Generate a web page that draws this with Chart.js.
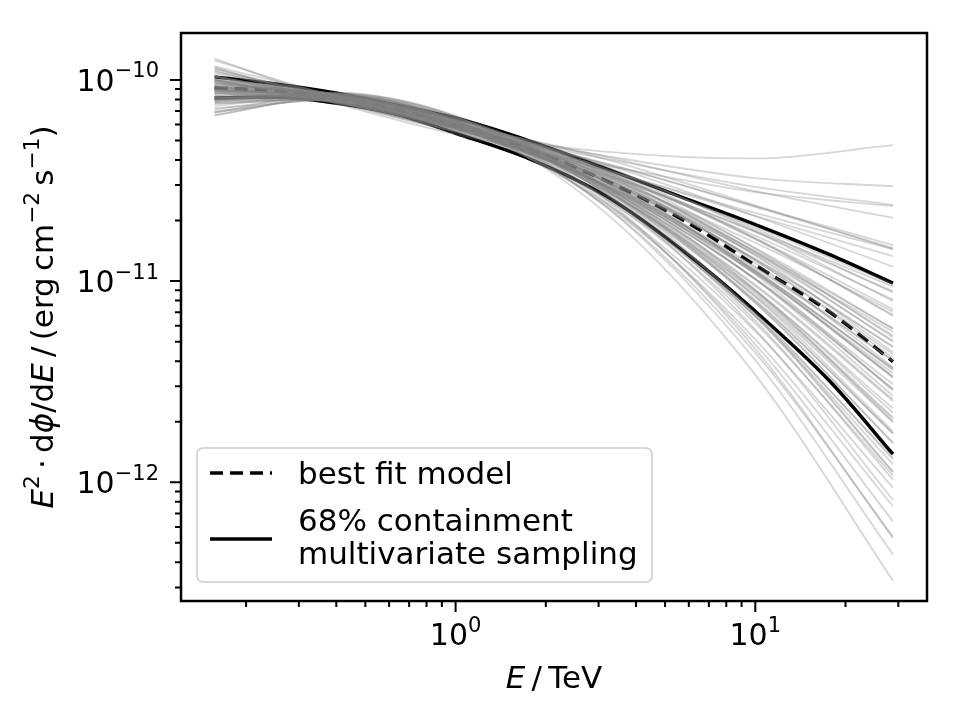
<!DOCTYPE html>
<html>
<head>
<meta charset="utf-8">
<script src="https://cdn.jsdelivr.net/npm/chart.js@4.4.0/dist/chart.umd.min.js"></script>
<style>
  html, body { margin: 0; padding: 0; background: #ffffff; }
  #wrap { width: 960px; height: 720px; }
</style>
</head>
<body>
<div id="wrap"><canvas id="c" width="960" height="720"></canvas></div>
<script>
// ---------------- data ----------------
// energies (TeV) at which the sampled curves were read
const E_SAMPLE = [0.157, 0.398, 1.0, 3.16, 10.0, 28.8];
// energies (TeV) at which best fit and 68% containment were read
const E_BAND = [0.157, 0.251, 0.398, 0.631, 1.0, 1.78, 3.16, 5.62, 10.0, 17.8, 28.8];

// E^2 dphi/dE  (erg cm^-2 s^-1)
const BEST_FIT = [9.12e-11, 8.81e-11, 8.11e-11, 7.13e-11, 5.96e-11, 4.50e-11, 3.16e-11, 2.05e-11, 1.20e-11, 6.98e-12, 3.98e-12];
const UPPER_68 = [1.035e-10, 9.55e-11, 8.61e-11, 7.50e-11, 6.46e-11, 4.95e-11, 3.63e-11, 2.63e-11, 1.91e-11, 1.35e-11, 9.77e-12];
const LOWER_68 = [8.13e-11, 8.22e-11, 7.67e-11, 6.76e-11, 5.43e-11, 4.03e-11, 2.66e-11, 1.45e-11, 7.08e-12, 3.16e-12, 1.38e-12];

// multivariate samples (grey curves), values at E_SAMPLE
const SAMPLES = [
  [1.274e-10, 7.89e-11, 5.57e-11, 4.40e-11, 4.07e-11, 4.74e-11],
  [1.157e-10, 7.65e-11, 5.36e-11, 3.76e-11, 2.77e-11, 2.36e-11],
  [1.168e-10, 8.36e-11, 6.04e-11, 4.16e-11, 2.80e-11, 2.06e-11],
  [1.139e-10, 7.95e-11, 5.53e-11, 3.55e-11, 2.18e-11, 1.44e-11],
  [1.040e-10, 7.83e-11, 5.74e-11, 3.82e-11, 2.35e-11, 1.51e-11],
  [1.035e-10, 8.15e-11, 6.10e-11, 4.04e-11, 2.38e-11, 1.44e-11],
  [9.98e-11, 7.66e-11, 5.49e-11, 3.35e-11, 1.77e-11, 9.41e-12],
  [1.078e-10, 8.29e-11, 5.85e-11, 3.41e-11, 1.68e-11, 8.09e-12],
  [9.70e-11, 7.98e-11, 5.93e-11, 3.62e-11, 1.82e-11, 8.77e-12],
  [1.009e-10, 8.25e-11, 6.00e-11, 3.49e-11, 1.63e-11, 7.25e-12],
  [9.94e-11, 8.04e-11, 5.73e-11, 3.20e-11, 1.41e-11, 5.82e-12],
  [9.15e-11, 7.92e-11, 5.97e-11, 3.52e-11, 1.61e-11, 6.79e-12],
  [1.009e-10, 8.45e-11, 6.09e-11, 3.34e-11, 1.40e-11, 5.36e-12],
  [9.02e-11, 7.82e-11, 5.78e-11, 3.22e-11, 1.35e-11, 5.06e-12],
  [9.75e-11, 8.15e-11, 5.75e-11, 3.00e-11, 1.16e-11, 4.02e-12],
  [9.32e-11, 8.31e-11, 6.20e-11, 3.43e-11, 1.39e-11, 4.99e-12],
  [8.78e-11, 7.74e-11, 5.68e-11, 3.04e-11, 1.18e-11, 4.03e-12],
  [9.27e-11, 8.09e-11, 5.83e-11, 3.03e-11, 1.13e-11, 3.65e-12],
  [9.14e-11, 8.43e-11, 6.37e-11, 3.47e-11, 1.34e-11, 4.44e-12],
  [8.95e-11, 8.02e-11, 5.85e-11, 3.01e-11, 1.09e-11, 3.36e-12],
  [9.06e-11, 8.11e-11, 5.86e-11, 2.96e-11, 1.03e-11, 3.07e-12],
  [8.93e-11, 8.44e-11, 6.40e-11, 3.39e-11, 1.23e-11, 3.73e-12],
  [8.57e-11, 7.95e-11, 5.87e-11, 2.97e-11, 1.02e-11, 2.92e-12],
  [9.38e-11, 8.49e-11, 6.07e-11, 2.93e-11, 9.45e-12, 2.53e-12],
  [8.15e-11, 7.79e-11, 5.82e-11, 2.91e-11, 9.60e-12, 2.58e-12],
  [8.33e-11, 8.29e-11, 6.37e-11, 3.26e-11, 1.08e-11, 2.86e-12],
  [8.78e-11, 8.33e-11, 6.04e-11, 2.83e-11, 8.40e-12, 1.99e-12],
  [7.90e-11, 7.91e-11, 5.98e-11, 2.91e-11, 8.83e-12, 2.10e-12],
  [8.28e-11, 8.17e-11, 6.02e-11, 2.79e-11, 7.93e-12, 1.75e-12],
  [8.07e-11, 8.41e-11, 6.47e-11, 3.11e-11, 9.03e-12, 2.00e-12],
  [8.13e-11, 8.07e-11, 5.86e-11, 2.58e-11, 6.73e-12, 1.33e-12],
  [8.11e-11, 8.51e-11, 6.44e-11, 2.95e-11, 7.85e-12, 1.56e-12],
  [7.63e-11, 8.03e-11, 6.00e-11, 2.65e-11, 6.66e-12, 1.23e-12],
  [7.94e-11, 8.19e-11, 5.91e-11, 2.45e-11, 5.63e-12, 9.40e-13],
  [7.74e-11, 8.65e-11, 6.65e-11, 2.90e-11, 6.83e-12, 1.13e-12],
  [7.23e-11, 7.95e-11, 5.91e-11, 2.40e-11, 5.13e-12, 7.60e-13],
  [7.13e-11, 8.39e-11, 6.51e-11, 2.72e-11, 5.74e-12, 8.16e-13],
  [6.88e-11, 8.09e-11, 6.11e-11, 2.36e-11, 4.40e-12, 5.37e-13],
  [6.89e-11, 8.52e-11, 6.59e-11, 2.55e-11, 4.60e-12, 5.28e-13],
  [6.69e-11, 8.31e-11, 6.23e-11, 2.19e-11, 3.42e-12, 3.24e-13],
  [9.93e-11, 7.86e-11, 5.75e-11, 3.54e-11, 1.86e-11, 9.65e-12],
  [1.038e-10, 8.12e-11, 5.73e-11, 3.28e-11, 1.55e-11, 7.05e-12],
  [9.96e-11, 8.37e-11, 6.24e-11, 3.72e-11, 1.77e-11, 7.95e-12],
  [9.31e-11, 7.70e-11, 5.56e-11, 3.13e-11, 1.37e-11, 5.61e-12],
  [9.25e-11, 8.12e-11, 6.15e-11, 3.61e-11, 1.63e-11, 6.71e-12],
  [9.86e-11, 8.25e-11, 5.90e-11, 3.17e-11, 1.29e-11, 4.73e-12],
  [9.05e-11, 7.82e-11, 5.72e-11, 3.14e-11, 1.28e-11, 4.71e-12],
  [9.58e-11, 8.50e-11, 6.34e-11, 3.53e-11, 1.45e-11, 5.26e-12],
  [9.64e-11, 8.16e-11, 5.77e-11, 2.97e-11, 1.11e-11, 3.68e-12],
  [8.94e-11, 8.03e-11, 5.98e-11, 3.24e-11, 1.27e-11, 4.33e-12],
  [9.45e-11, 8.28e-11, 5.97e-11, 3.09e-11, 1.13e-11, 3.62e-12],
  [8.56e-11, 7.96e-11, 6.05e-11, 3.30e-11, 1.27e-11, 4.16e-12],
  [9.23e-11, 8.41e-11, 6.17e-11, 3.15e-11, 1.11e-11, 3.30e-12],
  [8.28e-11, 7.78e-11, 5.80e-11, 2.96e-11, 1.02e-11, 2.89e-12],
  [8.85e-11, 8.12e-11, 5.84e-11, 2.81e-11, 8.92e-12, 2.33e-12],
  [8.50e-11, 8.27e-11, 6.23e-11, 3.13e-11, 1.02e-11, 2.69e-12],
  [8.18e-11, 7.98e-11, 5.92e-11, 2.84e-11, 8.60e-12, 2.06e-12],
  [8.67e-11, 8.55e-11, 6.28e-11, 2.88e-11, 8.05e-12, 1.74e-12],
  [7.77e-11, 8.13e-11, 6.23e-11, 2.95e-11, 8.34e-12, 1.79e-12],
  [8.12e-11, 8.39e-11, 6.21e-11, 2.74e-11, 6.94e-12, 1.30e-12],
  [1.249e-10, 8.20e-11, 5.78e-11, 4.19e-11, 3.25e-11, 2.96e-11],
  [1.107e-10, 7.79e-11, 5.67e-11, 4.06e-11, 2.94e-11, 2.39e-11],
  [1.130e-10, 8.06e-11, 5.64e-11, 3.57e-11, 2.11e-11, 1.33e-11],
  [1.004e-10, 7.77e-11, 5.78e-11, 3.86e-11, 2.34e-11, 1.46e-11],
  [1.098e-10, 8.40e-11, 6.06e-11, 3.80e-11, 2.10e-11, 1.18e-11],
  [1.045e-10, 8.01e-11, 5.70e-11, 3.41e-11, 1.75e-11, 8.91e-12],
  [8.84e-11, 7.75e-11, 5.82e-11, 3.35e-11, 1.46e-11, 5.79e-12],
  [9.60e-11, 8.27e-11, 5.88e-11, 3.00e-11, 1.09e-11, 3.49e-12],
  [8.63e-11, 8.05e-11, 6.02e-11, 3.13e-11, 1.12e-11, 3.34e-12],
  [8.81e-11, 8.44e-11, 6.20e-11, 2.97e-11, 9.06e-12, 2.22e-12],
  [7.63e-11, 8.04e-11, 6.14e-11, 2.85e-11, 7.77e-12, 1.58e-12],
  [8.00e-11, 8.29e-11, 6.07e-11, 2.58e-11, 6.17e-12, 1.08e-12],
  [7.89e-11, 8.63e-11, 6.54e-11, 2.83e-11, 6.68e-12, 1.12e-12],
  [6.97e-11, 8.00e-11, 6.25e-11, 2.73e-11, 6.35e-12, 1.03e-12],
  [7.43e-11, 8.45e-11, 6.30e-11, 2.47e-11, 4.85e-12, 6.39e-13],
  [6.66e-11, 8.22e-11, 6.29e-11, 2.35e-11, 4.05e-12, 4.38e-13]
];

// axis ranges and ticks
const X_MIN = 0.1213, X_MAX = 37.4;
const Y_MIN = 2.57e-13, Y_MAX = 1.71e-10;
const X_MAJOR_TICKS = [1, 10];
const X_TICK_LABELS = [['10', '0'], ['10', '1']];
const X_MINOR_TICKS = [0.2, 0.3, 0.4, 0.5, 0.6, 0.7, 0.8, 0.9, 2, 3, 4, 5, 6, 7, 8, 9, 20, 30];
const Y_MAJOR_TICKS = [1e-12, 1e-11, 1e-10];
const Y_TICK_LABELS = [['10', '\u221212'], ['10', '\u221211'], ['10', '\u221210']];
const Y_MINOR_TICKS = [3e-13, 4e-13, 5e-13, 6e-13, 7e-13, 8e-13, 9e-13,
                       2e-12, 3e-12, 4e-12, 5e-12, 6e-12, 7e-12, 8e-12, 9e-12,
                       2e-11, 3e-11, 4e-11, 5e-11, 6e-11, 7e-11, 8e-11, 9e-11];
const LEGEND_LABELS = ['best fit model', ['68% containment', 'multivariate sampling']];

// ---------------- drawing ----------------
const FONT = '"DejaVu Sans", "Liberation Sans", sans-serif';
const FS_TICK = 30;
const FS = 31;

function drawRich(ctx, segs, x, y, size, align) {
  const parts = [];
  let total = 0;
  for (const s of segs) {
    const fs = s.sup ? size * 0.7 : size;
    const font = (s.it ? 'italic ' : '') + fs + 'px ' + FONT;
    ctx.font = font;
    const w = ctx.measureText(s.t).width;
    parts.push({ t: s.t, sup: s.sup, font, w });
    total += w;
  }
  let cx = align === 'center' ? x - total / 2 : (align === 'right' ? x - total : x);
  ctx.textAlign = 'left';
  ctx.textBaseline = 'alphabetic';
  for (const p of parts) {
    ctx.font = p.font;
    ctx.fillText(p.t, cx, p.sup ? y - size * 0.45 : y);
    cx += p.w;
  }
}

const mplPlugin = {
  id: 'mplAxes',
  afterDatasetsDraw(chart) {
    const ctx = chart.ctx;
    const a = chart.chartArea;
    const xs = chart.scales.x, ys = chart.scales.y;
    ctx.save();
    ctx.fillStyle = '#000';
    ctx.strokeStyle = '#000';

    // ticks
    ctx.lineWidth = 2;
    ctx.beginPath();
    for (const v of X_MAJOR_TICKS) { const p = xs.getPixelForValue(v); ctx.moveTo(p, a.bottom); ctx.lineTo(p, a.bottom + 11); }
    for (const v of X_MINOR_TICKS) { const p = xs.getPixelForValue(v); ctx.moveTo(p, a.bottom); ctx.lineTo(p, a.bottom + 6); }
    for (const v of Y_MAJOR_TICKS) { const p = ys.getPixelForValue(v); ctx.moveTo(a.left, p); ctx.lineTo(a.left - 11, p); }
    for (const v of Y_MINOR_TICKS) { const p = ys.getPixelForValue(v); ctx.moveTo(a.left, p); ctx.lineTo(a.left - 6, p); }
    ctx.stroke();

    // spines
    ctx.lineWidth = 2.5;
    ctx.strokeRect(a.left, a.top, a.right - a.left, a.bottom - a.top);

    // tick labels
    X_MAJOR_TICKS.forEach((v, i) => {
      const p = xs.getPixelForValue(v);
      drawRich(ctx, [{ t: X_TICK_LABELS[i][0] }, { t: X_TICK_LABELS[i][1], sup: true }], p, a.bottom + 44, FS_TICK, 'center');
    });
    Y_MAJOR_TICKS.forEach((v, i) => {
      const p = ys.getPixelForValue(v);
      drawRich(ctx, [{ t: Y_TICK_LABELS[i][0] }, { t: Y_TICK_LABELS[i][1], sup: true }], a.left - 22, p + 11, FS_TICK, 'right');
    });

    // axis labels
    drawRich(ctx, [{ t: 'E', it: true }, { t: '\u2009/\u2009TeV' }], (a.left + a.right) / 2, 688, FS, 'center');
    ctx.save();
    ctx.translate(53, (a.top + a.bottom) / 2);
    ctx.rotate(-Math.PI / 2);
    drawRich(ctx, [
      { t: 'E', it: true }, { t: '2', sup: true }, { t: '\u2009\u00b7\u2009d' }, { t: '\u03d5', it: true },
      { t: '/d' }, { t: 'E', it: true }, { t: '\u2009/\u2009(erg\u2009cm' }, { t: '\u22122', sup: true },
      { t: '\u2009s' }, { t: '\u22121', sup: true }, { t: ')' }
    ], 0, 0, FS, 'center');
    ctx.restore();

    // legend
    const bx = 197, by = 448, bw = 455, bh = 134, r = 6;
    ctx.beginPath();
    ctx.moveTo(bx + r, by);
    ctx.arcTo(bx + bw, by, bx + bw, by + bh, r);
    ctx.arcTo(bx + bw, by + bh, bx, by + bh, r);
    ctx.arcTo(bx, by + bh, bx, by, r);
    ctx.arcTo(bx, by, bx + bw, by, r);
    ctx.closePath();
    ctx.fillStyle = 'rgba(255,255,255,0.8)';
    ctx.fill();
    ctx.strokeStyle = '#cccccc';
    ctx.lineWidth = 1.5;
    ctx.stroke();

    ctx.strokeStyle = '#000';
    ctx.lineWidth = 3.5;
    ctx.setLineDash([13, 7]);
    ctx.beginPath(); ctx.moveTo(210, 473); ctx.lineTo(272, 473); ctx.stroke();
    ctx.setLineDash([]);
    ctx.beginPath(); ctx.moveTo(210, 539); ctx.lineTo(272, 539); ctx.stroke();

    ctx.fillStyle = '#000';
    drawRich(ctx, [{ t: LEGEND_LABELS[0] }], 298, 484, FS, 'left');
    drawRich(ctx, [{ t: LEGEND_LABELS[1][0] }], 298, 531, FS, 'left');
    drawRich(ctx, [{ t: LEGEND_LABELS[1][1] }], 298, 564, FS, 'left');

    ctx.restore();
  }
};

const datasets = [];
SAMPLES.forEach((vals, i) => {
  datasets.push({
    label: 'sample ' + (i + 1),
    data: E_SAMPLE.map((e, k) => ({ x: e, y: vals[k] })),
    borderColor: 'rgba(128,128,128,0.32)',
    borderWidth: 1.8,
    pointRadius: 0,
    cubicInterpolationMode: 'monotone',
    fill: false
  });
});
datasets.push({
  label: 'best fit model',
  data: E_BAND.map((e, k) => ({ x: e, y: BEST_FIT[k] })),
  borderColor: '#000000', borderWidth: 3.5, borderDash: [13, 7],
  pointRadius: 0, cubicInterpolationMode: 'monotone', fill: false
});
datasets.push({
  label: '68% containment upper',
  data: E_BAND.map((e, k) => ({ x: e, y: UPPER_68[k] })),
  borderColor: '#000000', borderWidth: 3.5,
  pointRadius: 0, cubicInterpolationMode: 'monotone', fill: false
});
datasets.push({
  label: '68% containment lower',
  data: E_BAND.map((e, k) => ({ x: e, y: LOWER_68[k] })),
  borderColor: '#000000', borderWidth: 3.5,
  pointRadius: 0, cubicInterpolationMode: 'monotone', fill: false
});

new Chart(document.getElementById('c'), {
  type: 'line',
  data: { datasets },
  options: {
    responsive: false,
    animation: false,
    devicePixelRatio: 1,
    layout: { padding: { top: 33, right: 33, left: 0, bottom: 0 } },
    plugins: { legend: { display: false }, tooltip: { enabled: false } },
    scales: {
      x: {
        type: 'logarithmic', min: X_MIN, max: X_MAX, bounds: 'data',
        grid: { display: false }, border: { display: false }, ticks: { display: false },
        afterFit: (s) => { s.height = 119; }
      },
      y: {
        type: 'logarithmic', min: Y_MIN, max: Y_MAX, bounds: 'data',
        grid: { display: false }, border: { display: false }, ticks: { display: false },
        afterFit: (s) => { s.width = 181; }
      }
    }
  },
  plugins: [mplPlugin]
});
</script>
</body>
</html>
